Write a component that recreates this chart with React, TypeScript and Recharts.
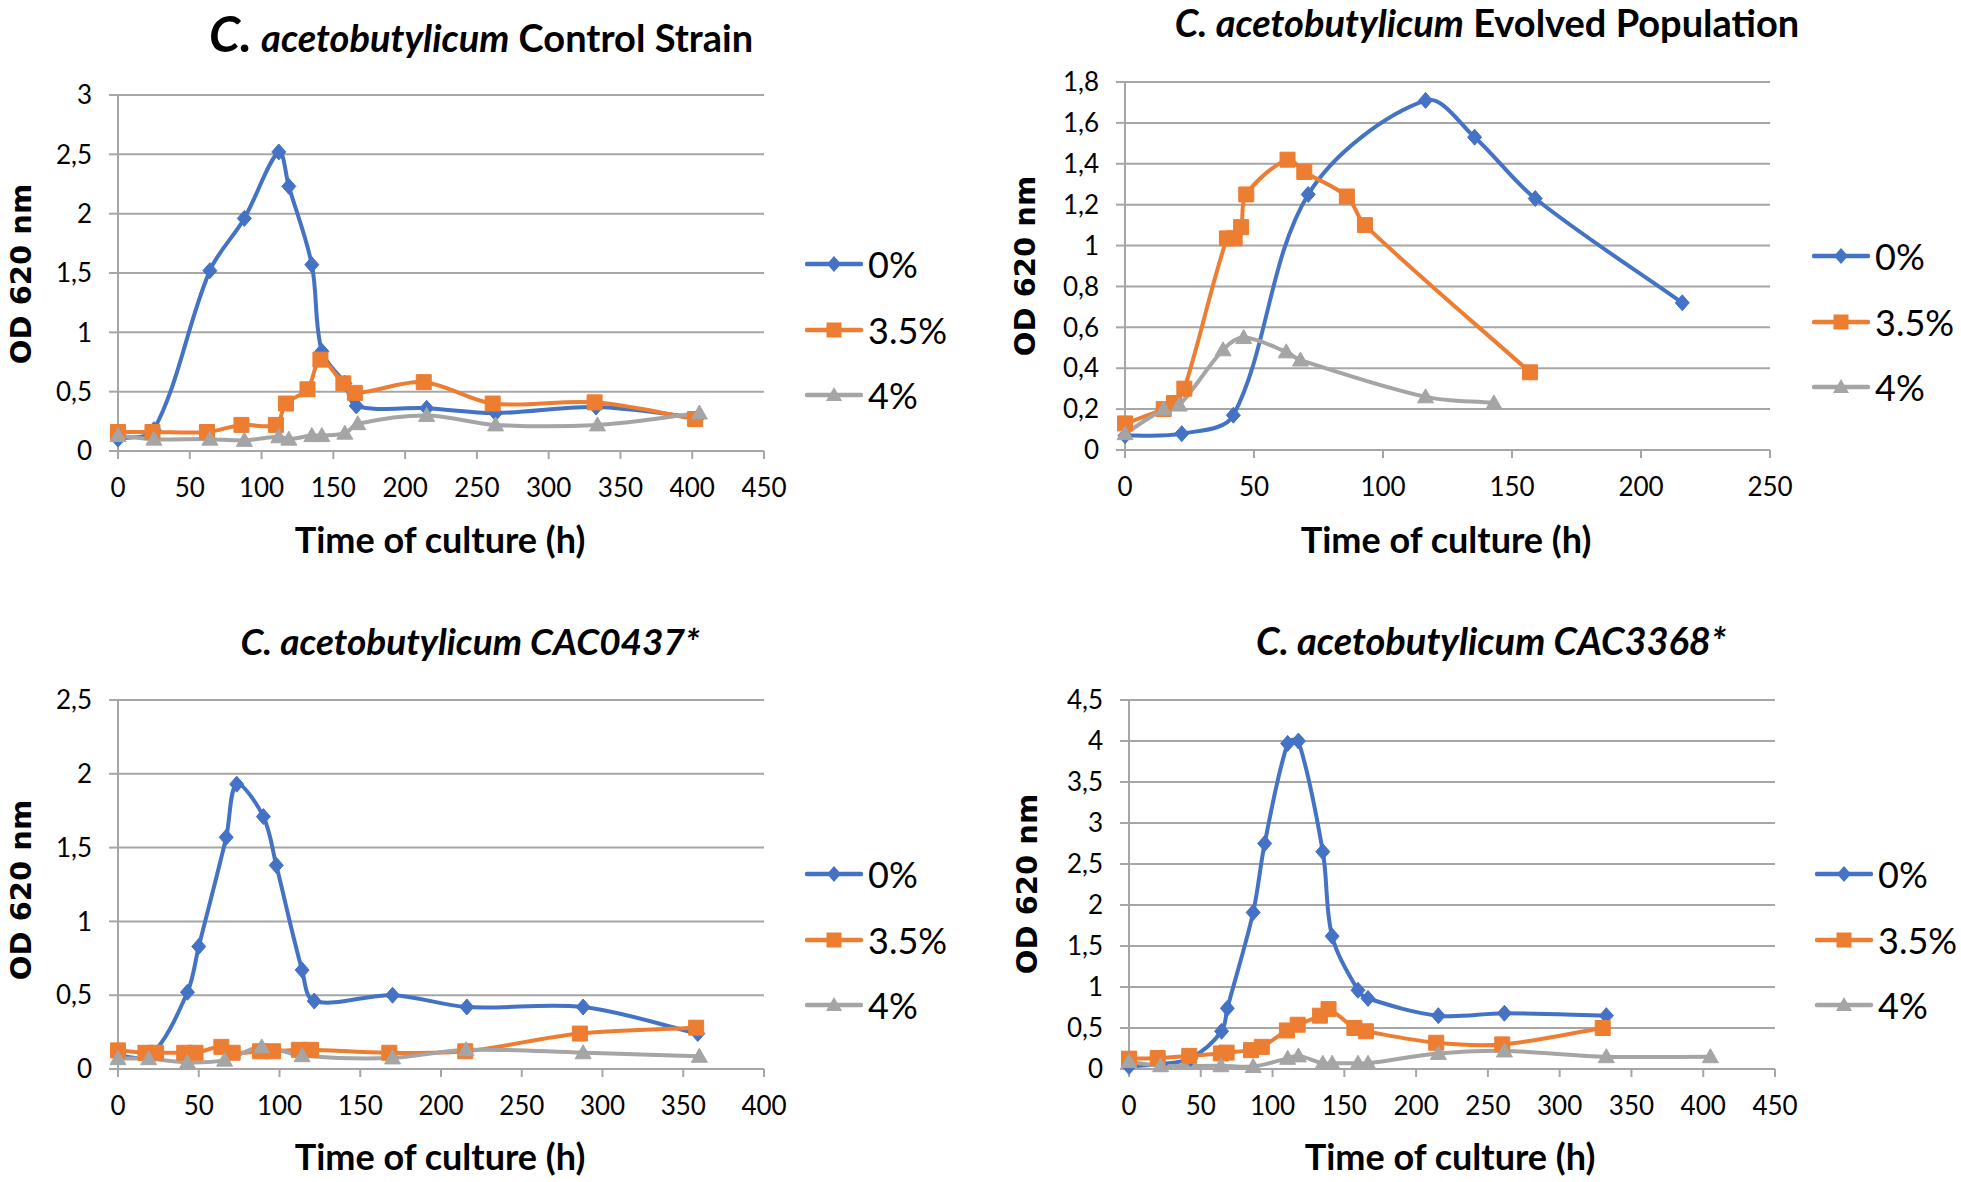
import React from 'react';
import { LineChart, Line, XAxis, YAxis, CartesianGrid } from 'recharts';

type Pt = [number, number];

// series legend
const SERIES_NAMES = ['0%', '3.5%', '4%'];
const SERIES_COLORS = ['#4472C4', '#ED7D31', '#A5A5A5'];
const SERIES_SHAPES = ['diamond', 'square', 'triangle'];

// C. acetobutylicum Control Strain (time h, OD 620)
const control0: Pt[] = [[0, 0.1], [25, 0.18], [64, 1.52], [88, 1.96], [112, 2.52], [119, 2.23], [135, 1.57], [142, 0.84], [158, 0.57], [166, 0.38], [215, 0.36], [263, 0.32], [333, 0.37], [404, 0.28]];
const control35: Pt[] = [[0, 0.16], [24, 0.16], [62, 0.16], [86, 0.22], [110, 0.22], [117, 0.4], [132, 0.52], [141, 0.77], [157, 0.57], [165, 0.49], [213, 0.58], [261, 0.4], [332, 0.41], [402, 0.27]];
const control4: Pt[] = [[0, 0.13], [25, 0.1], [64, 0.1], [88, 0.09], [112, 0.12], [119, 0.1], [135, 0.13], [142, 0.13], [158, 0.15], [167, 0.23], [215, 0.3], [263, 0.22], [334, 0.22], [405, 0.32]];

// Evolved Population
const evolved0: Pt[] = [[0, 0.07], [22, 0.08], [42, 0.17], [71, 1.25], [116.5, 1.71], [135.5, 1.53], [159, 1.23], [216, 0.72]];
const evolved35: Pt[] = [[0, 0.13], [15, 0.2], [19, 0.23], [23, 0.3], [39.5, 1.035], [42.5, 1.035], [45, 1.09], [47, 1.25], [63, 1.42], [69.5, 1.36], [86, 1.24], [93, 1.1], [157, 0.38]];
const evolved4: Pt[] = [[0, 0.08], [15, 0.2], [21, 0.22], [38, 0.49], [46, 0.55], [62.5, 0.48], [68, 0.44], [116.5, 0.26], [143, 0.23]];

// CAC0437*
const cac0437_0: Pt[] = [[0, 0.09], [20, 0.09], [43, 0.52], [50, 0.83], [67, 1.57], [73.5, 1.93], [90, 1.71], [98, 1.38], [114, 0.67], [121.5, 0.46], [170, 0.5], [216, 0.42], [288, 0.42], [359, 0.24]];
const cac0437_35: Pt[] = [[0, 0.126], [17, 0.11], [23.5, 0.11], [41, 0.11], [48, 0.11], [64, 0.15], [71, 0.11], [88, 0.12], [96, 0.12], [112, 0.13], [119.5, 0.13], [168, 0.11], [215, 0.12], [286, 0.24], [358, 0.28]];
const cac0437_4: Pt[] = [[0, 0.07], [19, 0.07], [43, 0.045], [66, 0.06], [89, 0.15], [114, 0.09], [170, 0.075], [215.5, 0.13], [288, 0.11], [360, 0.086]];

// CAC3368*
const cac3368_0: Pt[] = [[0, 0.03], [22, 0.06], [43, 0.13], [64.5, 0.46], [68.5, 0.74], [86.5, 1.91], [94.5, 2.75], [110.5, 3.97], [118, 4.0], [135, 2.65], [141.5, 1.62], [159.5, 0.96], [166.5, 0.86], [215.5, 0.65], [261.5, 0.68], [332.5, 0.65]];
const cac3368_35: Pt[] = [[0, 0.126], [20, 0.134], [42, 0.16], [64, 0.19], [68, 0.2], [85, 0.23], [92.5, 0.27], [110, 0.47], [117.5, 0.54], [133, 0.65], [139, 0.73], [157, 0.5], [165, 0.46], [214, 0.32], [260, 0.3], [330, 0.5]];
const cac3368_4: Pt[] = [[0, 0.09], [22, 0.04], [64, 0.04], [86.5, 0.03], [110.5, 0.13], [118, 0.16], [135, 0.07], [141.5, 0.07], [159.5, 0.07], [166.5, 0.07], [215.5, 0.19], [261.5, 0.22], [332.5, 0.15], [405, 0.15]];

// axis ticks
const xTicks450 = [0, 50, 100, 150, 200, 250, 300, 350, 400, 450];
const xTicks400 = [0, 50, 100, 150, 200, 250, 300, 350, 400];
const xTicks250 = [0, 50, 100, 150, 200, 250];
const yTicks3 = [0, 0.5, 1, 1.5, 2, 2.5, 3];
const yTicks18 = [0, 0.2, 0.4, 0.6, 0.8, 1, 1.2, 1.4, 1.6, 1.8];
const yTicks25 = [0, 0.5, 1, 1.5, 2, 2.5];
const yTicks45 = [0, 0.5, 1, 1.5, 2, 2.5, 3, 3.5, 4, 4.5];

const FONT = 'Lato, "Open Sans", sans-serif';
const GRID = '#a6a6a6';
const PAD_L = 110;
const PAD_T = 20;
const PAD_R = 45;
const PAD_B = 60;

// smoothed line like Excel: Catmull-Rom tangents scaled by segment lengths
const excelCurve: any = (context: any) => {
  let pts: number[][] = [];
  const dist = (a: number[], b: number[]) => Math.hypot(b[0] - a[0], b[1] - a[1]);
  return {
    areaStart() {},
    areaEnd() {},
    lineStart() { pts = []; },
    point(x: number, y: number) { pts.push([+x, +y]); },
    lineEnd() {
      const n = pts.length;
      if (!n) return;
      context.moveTo(pts[0][0], pts[0][1]);
      for (let i = 0; i < n - 1; i++) {
        const p0 = pts[i - 1] || pts[i];
        const p1 = pts[i];
        const p2 = pts[i + 1];
        const p3 = pts[i + 2] || p2;
        const d01 = dist(p0, p1);
        const d12 = dist(p1, p2);
        const d23 = dist(p2, p3);
        const f1 = d01 + d12 > 0 ? (d12 / (d01 + d12)) / 3 : 0;
        const f2 = d12 + d23 > 0 ? (d12 / (d12 + d23)) / 3 : 0;
        context.bezierCurveTo(
          p1[0] + (p2[0] - p0[0]) * f1, p1[1] + (p2[1] - p0[1]) * f1,
          p2[0] - (p3[0] - p1[0]) * f2, p2[1] - (p3[1] - p1[1]) * f2,
          p2[0], p2[1]
        );
      }
    },
  };
};

const markerPath = (shape: string, cx: number, cy: number) => {
  if (shape === 'diamond') return `M${cx},${cy - 8}L${cx + 7},${cy}L${cx},${cy + 8}L${cx - 7},${cy}Z`;
  if (shape === 'square') return `M${cx - 7.5},${cy - 7.5}h15v15h-15Z`;
  return `M${cx},${cy - 8}L${cx + 8},${cy + 6}L${cx - 8},${cy + 6}Z`;
};

const fmt = (v: number) => String(v).replace('.', ',');

const panels = [
  {
    title: (
      <>
        <span style={{ fontSize: 50, fontStyle: 'italic' }}>C.</span>{' '}
        <span style={{ fontStyle: 'italic' }}>acetobutylicum</span> Control Strain
      </>
    ),
    titleSize: 38,
    titlePos: [481, 33], yLabelPos: [21, 274], xLabelPos: [440, 539], legendPos: [805, 264],
    plot: { left: 118, right: 764, top: 95, bottom: 451 },
    xMax: 450, xTicks: xTicks450, yMax: 3, yTicks: yTicks3,
    series: [control0, control35, control4],
  },
  {
    title: (
      <>
        <span style={{ fontStyle: 'italic' }}>C. acetobutylicum</span> Evolved Population
      </>
    ),
    titleSize: 38,
    titlePos: [1487, 22], yLabelPos: [1025, 266], xLabelPos: [1446, 539], legendPos: [1812, 256],
    plot: { left: 1125, right: 1770, top: 82, bottom: 450 },
    xMax: 250, xTicks: xTicks250, yMax: 1.8, yTicks: yTicks18,
    series: [evolved0, evolved35, evolved4],
  },
  {
    title: <span style={{ fontStyle: 'italic' }}>C. acetobutylicum CAC0437*</span>,
    titleSize: 37,
    titlePos: [470, 640], yLabelPos: [21, 890], xLabelPos: [440, 1156], legendPos: [805, 874],
    plot: { left: 118, right: 764, top: 700, bottom: 1069 },
    xMax: 400, xTicks: xTicks400, yMax: 2.5, yTicks: yTicks25,
    series: [cac0437_0, cac0437_35, cac0437_4],
  },
  {
    title: <span style={{ fontStyle: 'italic' }}>C. acetobutylicum CAC3368*</span>,
    titleSize: 38,
    titlePos: [1491, 640], yLabelPos: [1027, 884], xLabelPos: [1450, 1156], legendPos: [1815, 874],
    plot: { left: 1129, right: 1775, top: 700, bottom: 1069 },
    xMax: 450, xTicks: xTicks450, yMax: 4.5, yTicks: yTicks45,
    series: [cac3368_0, cac3368_35, cac3368_4],
  },
];

const centered = (x: number, y: number): React.CSSProperties => ({
  position: 'absolute', left: x, top: y, transform: 'translate(-50%, -50%)', whiteSpace: 'nowrap',
});

const Panel = ({ p }: { p: typeof panels[number] }) => {
  const pw = p.plot.right - p.plot.left;
  const ph = p.plot.bottom - p.plot.top;
  return (
    <>
      <div style={{ ...centered(p.titlePos[0], p.titlePos[1]), fontFamily: FONT, fontWeight: 'bold', fontSize: p.titleSize, color: '#000', lineHeight: 1 }}>
        {p.title}
      </div>
      <div style={{ ...centered(p.yLabelPos[0], p.yLabelPos[1]), transform: 'translate(-50%, -50%) rotate(-90deg)', fontFamily: '"DejaVu Sans", sans-serif', fontWeight: 'bold', fontSize: 29, color: '#000' }}>
        OD 620 nm
      </div>
      <div style={{ ...centered(p.xLabelPos[0], p.xLabelPos[1]), fontFamily: FONT, fontWeight: 'bold', fontSize: 36, color: '#000' }}>
        Time of culture (h)
      </div>
      <div style={{ position: 'absolute', left: p.plot.left - PAD_L, top: p.plot.top - PAD_T }}>
        <LineChart width={pw + PAD_L + PAD_R} height={ph + PAD_T + PAD_B} margin={{ top: PAD_T, right: PAD_R, left: 0, bottom: 0 }}>
          <CartesianGrid vertical={false} stroke={GRID} strokeWidth={2} />
          <XAxis
            type="number" dataKey="x" domain={[0, p.xMax]} ticks={p.xTicks} interval={0}
            height={PAD_B} tickSize={8} tickMargin={20} tickFormatter={fmt}
            axisLine={{ stroke: GRID, strokeWidth: 2 }} tickLine={{ stroke: GRID, strokeWidth: 2 }}
            tick={{ fontSize: 26, fill: '#000', fontFamily: FONT }}
          />
          <YAxis
            type="number" domain={[0, p.yMax]} ticks={p.yTicks} interval={0}
            width={PAD_L} tickSize={9} tickMargin={17} tickFormatter={fmt}
            axisLine={{ stroke: GRID, strokeWidth: 2 }} tickLine={{ stroke: GRID, strokeWidth: 2 }}
            tick={{ fontSize: 26, fill: '#000', fontFamily: FONT }}
          />
          {p.series.map((pts, si) => (
            <Line
              key={SERIES_NAMES[si]}
              data={pts.map(([x, y]) => ({ x, y }))}
              dataKey="y"
              type={excelCurve}
              stroke={SERIES_COLORS[si]}
              strokeWidth={4}
              dot={(d: any) => (
                <path key={`d-${si}-${d.index}`} d={markerPath(SERIES_SHAPES[si], d.cx, d.cy)} fill={SERIES_COLORS[si]} stroke={SERIES_COLORS[si]} strokeWidth={1} />
              )}
              activeDot={false}
              isAnimationActive={false}
            />
          ))}
        </LineChart>
      </div>
      {SERIES_NAMES.map((name, si) => (
        <div
          key={name}
          style={{ position: 'absolute', left: p.legendPos[0], top: p.legendPos[1] + si * 65.5, transform: 'translateY(-50%)', display: 'flex', alignItems: 'center' }}
        >
          <svg width={58} height={20}>
            <line x1={2} y1={10} x2={56} y2={10} stroke={SERIES_COLORS[si]} strokeWidth={4.5} strokeLinecap="round" />
            <path d={markerPath(SERIES_SHAPES[si], 29, 10)} fill={SERIES_COLORS[si]} />
          </svg>
          <span style={{ marginLeft: 5, fontFamily: FONT, fontSize: 36, color: '#000', lineHeight: 1 }}>{name}</span>
        </div>
      ))}
    </>
  );
};

export default function App() {
  return (
    <div style={{ position: 'absolute', left: 0, top: 0, width: 1961, height: 1182, background: '#fff', overflow: 'hidden' }}>
      {panels.map((p, i) => (
        <Panel key={i} p={p} />
      ))}
    </div>
  );
}
